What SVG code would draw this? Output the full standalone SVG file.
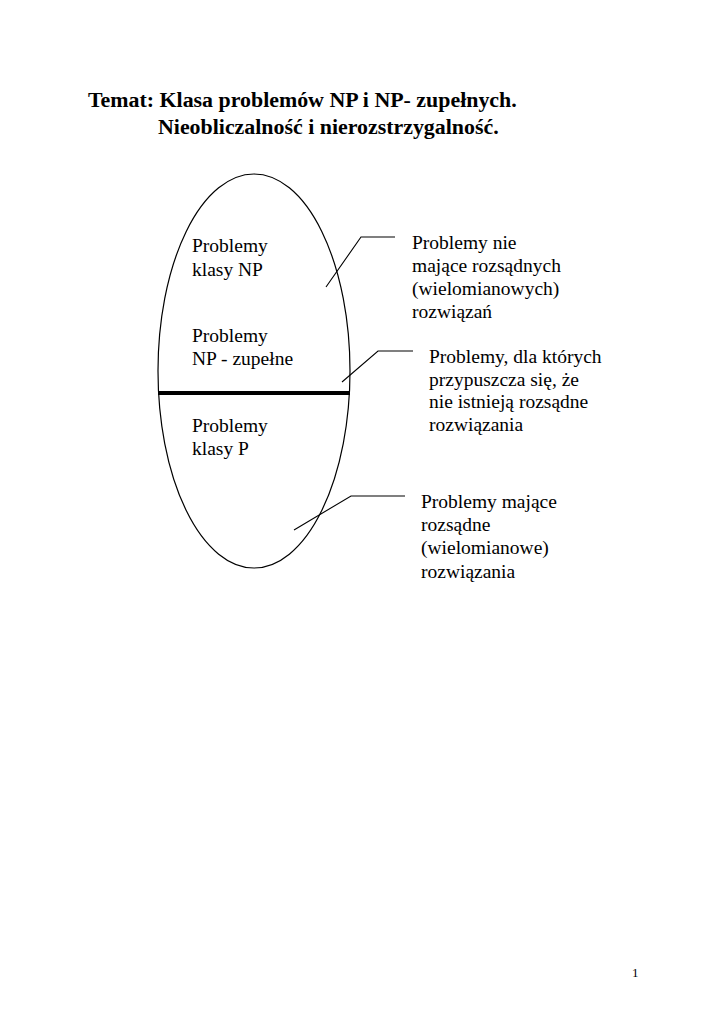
<svg xmlns="http://www.w3.org/2000/svg" width="724" height="1024" viewBox="0 0 724 1024">
<style>
.t{font-family:"Liberation Serif","Times New Roman",serif;font-size:19.5px;fill:#000}
.h{font-family:"Liberation Serif","Times New Roman",serif;font-size:21.9px;font-weight:bold;fill:#000}
.ln{stroke:#000;stroke-width:1.1;fill:none}
</style>
<rect width="724" height="1024" fill="#fff"/>
<g id="title">
<text class="h" x="88" y="107">Temat: Klasa problemów NP i NP- zupełnych.</text>
<text class="h" x="158" y="134">Nieobliczalność i nierozstrzygalność.</text>
</g>
<g id="ellipse">
<ellipse cx="254" cy="371" rx="96" ry="197" fill="none" stroke="#000" stroke-width="1.2"/>
<line x1="158" y1="393" x2="350" y2="393" stroke="#000" stroke-width="4"/>
</g>
<g id="np">
<text class="t" x="192" y="252">Problemy</text>
<text class="t" x="192" y="276">klasy NP</text>
</g>
<g id="npc">
<text class="t" x="192" y="342">Problemy</text>
<text class="t" x="192" y="365">NP - zupełne</text>
</g>
<g id="p">
<text class="t" x="192" y="432">Problemy</text>
<text class="t" x="192" y="455">klasy P</text>
</g>
<g id="note1">
<text class="t" x="412" y="249">Problemy nie</text>
<text class="t" x="412" y="272">mające rozsądnych</text>
<text class="t" x="412" y="295">(wielomianowych)</text>
<text class="t" x="412" y="318">rozwiązań</text>
</g>
<g id="note2">
<text class="t" x="429" y="363">Problemy, dla których</text>
<text class="t" x="429" y="386">przypuszcza się, że</text>
<text class="t" x="429" y="408">nie istnieją rozsądne</text>
<text class="t" x="429" y="431">rozwiązania</text>
</g>
<g id="note3">
<text class="t" x="421" y="508">Problemy mające</text>
<text class="t" x="421" y="531">rozsądne</text>
<text class="t" x="421" y="554">(wielomianowe)</text>
<text class="t" x="421" y="578">rozwiązania</text>
</g>
<g id="connectors">
<polyline class="ln" points="395,237 361,237 326,287"/>
<polyline class="ln" points="413,351 378,351 342,382"/>
<polyline class="ln" points="405,496 351,496 294,530"/>
</g>
<g id="page">
<text x="632" y="977" style="font-family:'Liberation Serif',serif;font-size:13px">1</text>
</g>
</svg>
